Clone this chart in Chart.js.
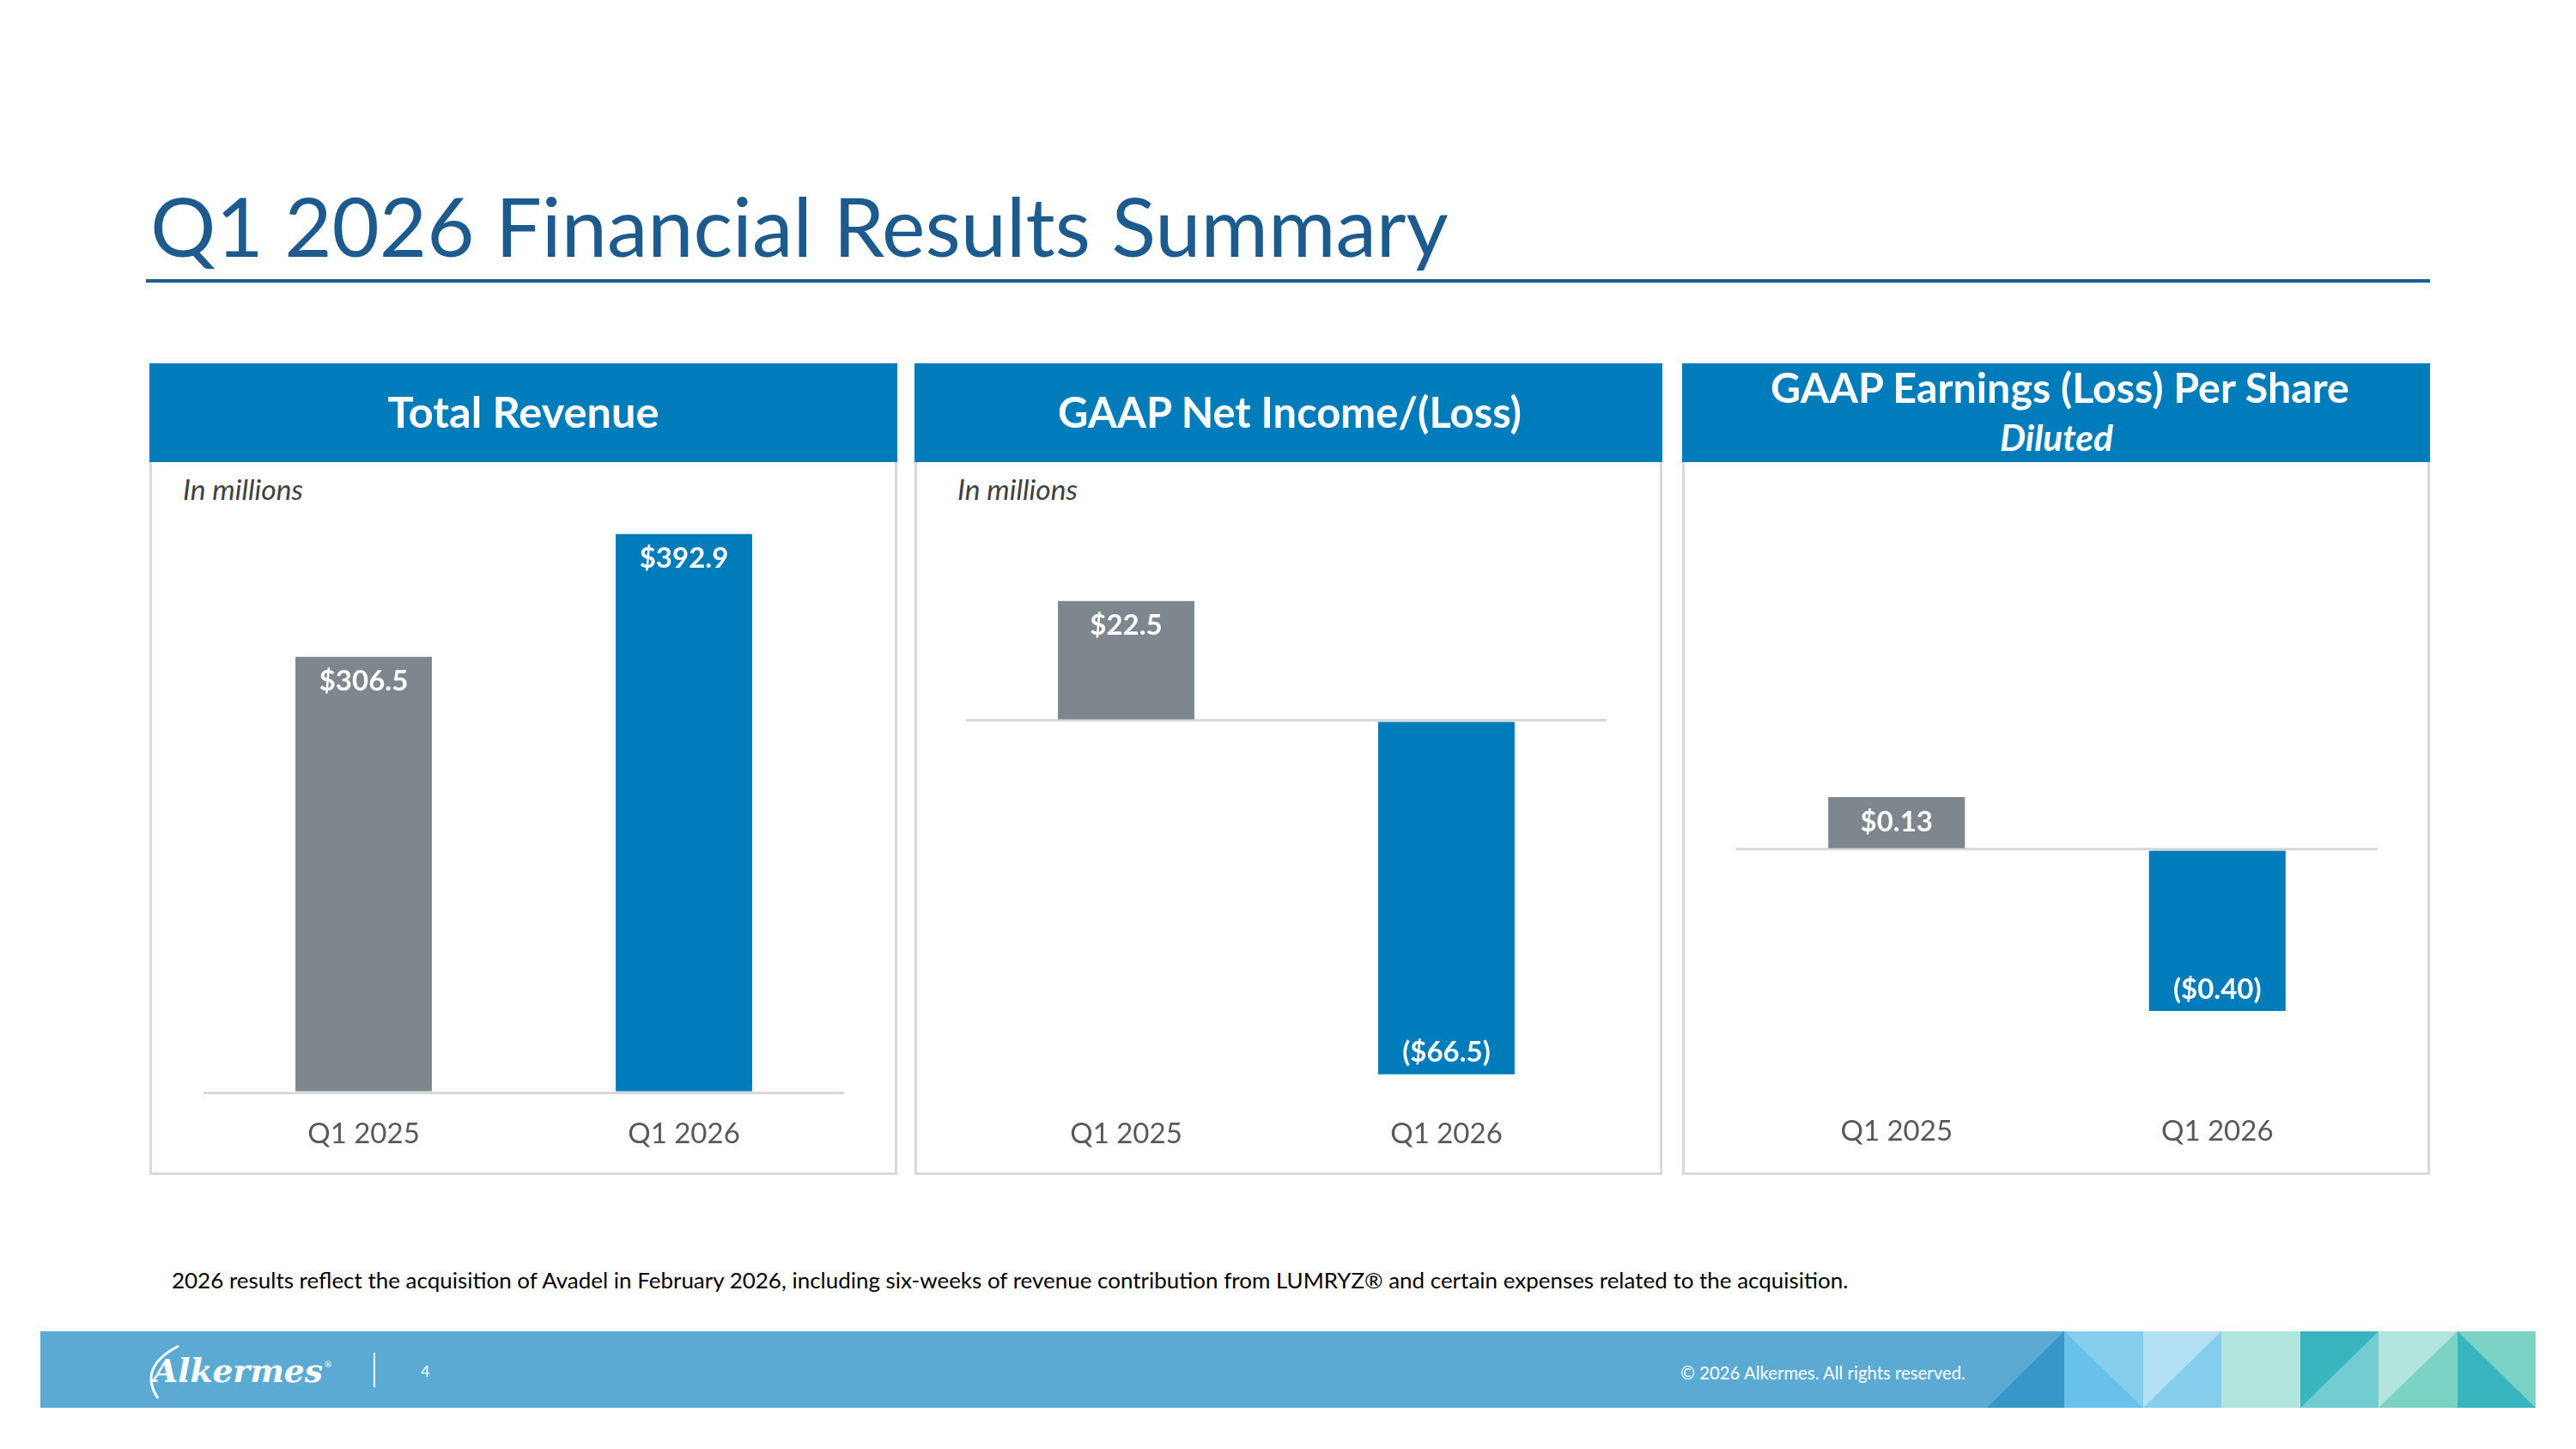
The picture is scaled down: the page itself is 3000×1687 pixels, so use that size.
<!DOCTYPE html>
<html>
<head>
<meta charset="utf-8">
<script src="https://cdn.jsdelivr.net/npm/chart.js@4.4.1/dist/chart.umd.min.js"></script>
<style>
    html, body { margin: 0; padding: 0; }
    body { width: 3000px; height: 1687px; position: relative; overflow: hidden; background: #fff; font-family: Lato, sans-serif; }
    .t { position: absolute; white-space: nowrap; line-height: 1; }
    .panel { position: absolute; top: 423px; width: 871px; height: 945px; box-sizing: border-box; border: 3px solid #D9D9D9; border-top: none; background: #fff; }
    .head { position: absolute; top: 423px; width: 871px; height: 115px; background: #007CBA; }
    .hd { color: #fff; font-weight: 700; font-size: 56px; }
    .note { color: #404040; font-style: italic; font-size: 30px; }
    canvas { position: absolute; }
</style>
</head>
<body>

<!-- title -->
<div class="t" data-x="175" data-cy="266" data-w="1512" style="font-size:100px;color:#1D5B8F">Q1 2026 Financial Results Summary</div>
<div style="position:absolute;left:170px;top:325px;width:2660px;height:4px;background:#1D5B8F"></div>

<!-- panels -->
<div class="panel" style="left:174px"></div>
<div class="panel" style="left:1065px"></div>
<div class="panel" style="left:1959px"></div>
<div class="head" style="left:174px"></div>
<div class="head" style="left:1065px"></div>
<div class="head" style="left:1959px"></div>

<div class="t hd" data-cx="609.5" data-cy="481" data-w="316">Total Revenue</div>
<div class="t hd" data-cx="1502" data-cy="481" data-w="540">GAAP Net Income/(Loss)</div>
<div class="t hd" data-cx="2399" data-cy="452" data-w="674">GAAP Earnings (Loss) Per Share</div>
<div class="t hd" data-cx="2395" data-cy="511" data-w="132" style="font-style:italic">Diluted</div>

<div class="t note" data-x="213" data-cy="571" data-w="140">In millions</div>
<div class="t note" data-x="1115" data-cy="571" data-w="140">In millions</div>

<canvas id="revChart" width="746" height="820" style="left:237px;top:560px"></canvas>
<canvas id="netChart" width="746" height="820" style="left:1125px;top:560px"></canvas>
<canvas id="epsChart" width="747" height="820" style="left:2022px;top:560px"></canvas>

<div class="t" data-x="200" data-cy="1491" data-w="1953" style="font-size:30px;color:#000">2026 results reflect the acquisition of Avadel in February 2026, including six-weeks of revenue contribution from LUMRYZ® and certain expenses related to the acquisition.</div>

<!-- footer band -->
<svg width="3000" height="1687" style="position:absolute;left:0;top:0">
    <rect x="47" y="1550" width="2906" height="89" fill="#5BAAD3"/>
    <polygon points="2314,1639 2404,1550 2404,1639" fill="#3797C9"/>
    <rect x="2404" y="1550" width="92" height="89" fill="#86CEED"/>
    <polygon points="2404,1550 2496,1639 2404,1639" fill="#67C1E8"/>
    <rect x="2496" y="1550" width="91" height="89" fill="#B3E0F3"/>
    <polygon points="2496,1639 2587,1550 2587,1639" fill="#86CEED"/>
    <rect x="2587" y="1550" width="92" height="89" fill="#B3E5DF"/>
    <rect x="2679" y="1550" width="91" height="89" fill="#39B5BF"/>
    <polygon points="2679,1639 2770,1550 2770,1639" fill="#73CCD0"/>
    <rect x="2770" y="1550" width="92" height="89" fill="#B3E5DF"/>
    <polygon points="2770,1639 2862,1550 2862,1639" fill="#7AD3C3"/>
    <rect x="2862" y="1550" width="91" height="89" fill="#7AD3C3"/>
    <polygon points="2862,1550 2953,1639 2862,1639" fill="#39B5BF"/>
    <line x1="436" y1="1575" x2="436" y2="1615" stroke="#fff" stroke-width="2"/>
    <path d="M 184 1628 Q 160 1592 208 1567" stroke="#fff" stroke-width="3" fill="none"/>
</svg>

<div class="t" data-x="178" data-cy="1598" data-w="198" style="font-family:'DejaVu Serif';font-weight:700;font-style:italic;font-size:44px;color:#fff">Alkermes</div>
<div class="t" data-x="378" data-cy="1588" style="font-size:10px;color:#fff">®</div>
<div class="t" data-x="490" data-cy="1597" style="font-size:18px;color:#fff">4</div>
<div class="t" data-x="1957" data-cy="1599" data-w="332" style="font-size:20px;color:#fff">© 2026 Alkermes. All rights reserved.</div>

<script>
const categories = ['Q1 2025', 'Q1 2026'];
const revenue = [306.5, 392.9];
const netIncome = [22.5, -66.5];
const epsDiluted = [0.13, -0.40];

const GRAY = '#7E878D';
const BLUE = '#007CBA';

// size text to the width it has in the slide, then place by cap centre
document.querySelectorAll('.t').forEach(el => {
    if (el.dataset.w) {
        const fs = parseFloat(getComputedStyle(el).fontSize);
        const w = el.getBoundingClientRect().width;
        el.style.fontSize = (fs * el.dataset.w / w) + 'px';
    }
    const f = parseFloat(getComputedStyle(el).fontSize);
    const w2 = el.getBoundingClientRect().width;
    el.style.left = (el.dataset.cx ? el.dataset.cx - w2 / 2 : +el.dataset.x) + 'px';
    el.style.top = (el.dataset.cy - 0.53 * f) + 'px';
});

Chart.defaults.font.family = 'Lato';

const valueLabels = {
    id: 'valueLabels',
    afterDatasetsDraw(chart, args, opts) {
        const ctx = chart.ctx;
        const ds = chart.data.datasets[0];
        chart.getDatasetMeta(0).data.forEach((bar, i) => {
            const v = ds.data[i];
            const txt = v < 0 ? '($' + Math.abs(v).toFixed(opts.decimals) + ')' : '$' + v.toFixed(opts.decimals);
            const y = v < 0 ? bar.y - opts.negOffset : bar.y + opts.offset;
            ctx.save();
            ctx.font = 'bold 33px Lato';
            ctx.fillStyle = '#fff';
            ctx.textAlign = 'center';
            ctx.textBaseline = 'middle';
            ctx.fillText(txt, bar.x, y);
            ctx.restore();
        });
    }
};

function barChart(id, values, yMin, yMax, decimals, tickPad) {
    new Chart(document.getElementById(id), {
        type: 'bar',
        data: {
            labels: categories,
            datasets: [{
                data: values,
                backgroundColor: [GRAY, BLUE],
                borderWidth: 0,
                barPercentage: 0.426,
                categoryPercentage: 1
            }]
        },
        options: {
            responsive: false,
            animation: false,
            layout: { padding: { top: 40, bottom: 8, left: 0, right: 0 } },
            plugins: {
                legend: { display: false },
                tooltip: { enabled: false },
                valueLabels: { decimals: decimals, offset: 29, negOffset: 25 }
            },
            scales: {
                x: {
                    grid: { display: false },
                    border: { display: false },
                    ticks: { color: '#595959', font: { size: 33 }, padding: tickPad },
                    afterFit: s => { s.height = 100; }
                },
                y: {
                    min: yMin,
                    max: yMax,
                    ticks: { display: false },
                    border: { display: false },
                    grid: {
                        drawTicks: false,
                        lineWidth: 3,
                        color: c => (c.tick && Math.abs(c.tick.value) < 1e-9) ? '#D9D9D9' : 'rgba(0,0,0,0)'
                    },
                    afterFit: s => { s.width = 0; }
                }
            }
        },
        plugins: [valueLabels]
    });
}

barChart('revChart', revenue, 0, 406, 1, 21);
barChart('netChart', netIncome, -69.95, 38.6, 1, 21);
barChart('epsChart', epsDiluted, -0.6024, 0.828, 2, 18);
</script>
</body>
</html>
